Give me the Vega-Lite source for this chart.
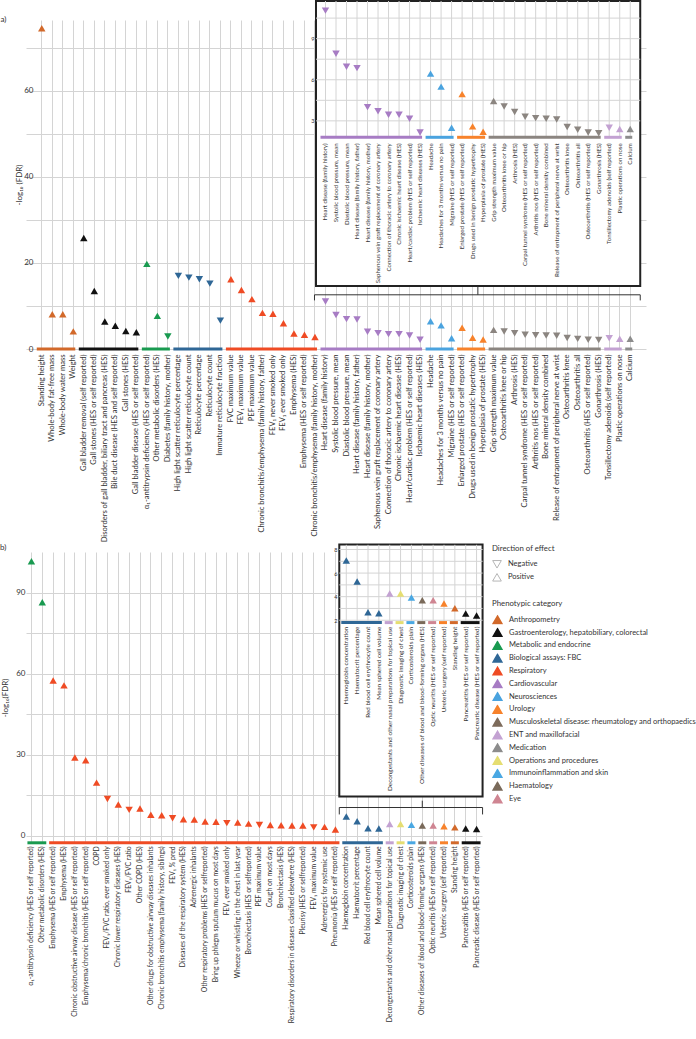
{
  "$schema": "https://vega.github.io/schema/vega-lite/v6.json",
  "padding": {"left": 0, "top": 0, "right": 0, "bottom": 0},
  "spacing": 0,
  "config": {
    "font": "Lato",
    "view": {"stroke": null},
    "axis": {"labelColor": "#333", "titleColor": "#333", "labelFont": "Lato", "titleFont": "Lato"},
    "legend": {"labelColor": "#333", "titleColor": "#333", "labelFont": "Lato", "titleFont": "Lato"}
  },
  "datasets": {
    "a": [
      {"label": "Standing height", "cat": "Anthropometry", "d": "Positive", "v": 74.6},
      {"label": "Whole-body fat-free mass", "cat": "Anthropometry", "d": "Positive", "v": 8.1},
      {"label": "Whole-body water mass", "cat": "Anthropometry", "d": "Positive", "v": 8.1},
      {"label": "Weight", "cat": "Anthropometry", "d": "Positive", "v": 4.1},
      {"label": "Gall bladder removal (self reported)", "cat": "Gastroenterology, hepatobiliary, colorectal", "d": "Positive", "v": 25.8},
      {"label": "Gall stones (HES or self reported)", "cat": "Gastroenterology, hepatobiliary, colorectal", "d": "Positive", "v": 13.5},
      {"label": "Disorders of gall bladder, biliary tract and pancreas (HES)", "cat": "Gastroenterology, hepatobiliary, colorectal", "d": "Positive", "v": 6.4},
      {"label": "Bile duct disease (HES and self reported)", "cat": "Gastroenterology, hepatobiliary, colorectal", "d": "Positive", "v": 5.4},
      {"label": "Gall stones (HES)", "cat": "Gastroenterology, hepatobiliary, colorectal", "d": "Positive", "v": 4.2},
      {"label": "Gall bladder disease (HES or self reported)", "cat": "Gastroenterology, hepatobiliary, colorectal", "d": "Positive", "v": 3.9},
      {"label": "α₁-antitrypsin deficiency (HES or self reported)", "cat": "Metabolic and endocrine", "d": "Positive", "v": 19.8},
      {"label": "Other metabolic disorders (HES)", "cat": "Metabolic and endocrine", "d": "Positive", "v": 7.7},
      {"label": "Diabetes (family history, mother)", "cat": "Metabolic and endocrine", "d": "Negative", "v": 2.9},
      {"label": "High light scatter reticulocyte percentage", "cat": "Biological assays: FBC", "d": "Negative", "v": 17.0},
      {"label": "High light scatter reticulocyte count", "cat": "Biological assays: FBC", "d": "Negative", "v": 16.6},
      {"label": "Reticulocyte percentage", "cat": "Biological assays: FBC", "d": "Negative", "v": 16.2},
      {"label": "Reticulocyte count", "cat": "Biological assays: FBC", "d": "Negative", "v": 15.2},
      {"label": "Immature reticulocyte fraction", "cat": "Biological assays: FBC", "d": "Negative", "v": 6.6},
      {"label": "FVC maximum value", "cat": "Respiratory", "d": "Positive", "v": 16.2},
      {"label": "FEV₁ maximum value", "cat": "Respiratory", "d": "Positive", "v": 13.7},
      {"label": "PEF maximum value", "cat": "Respiratory", "d": "Positive", "v": 11.6},
      {"label": "Chronic bronchitis/emphysema (family history, father)", "cat": "Respiratory", "d": "Positive", "v": 8.4},
      {"label": "FEV₁ never smoked only", "cat": "Respiratory", "d": "Positive", "v": 8.2},
      {"label": "FEV₁ ever smoked only", "cat": "Respiratory", "d": "Positive", "v": 6.0},
      {"label": "Emphysema (HES)", "cat": "Respiratory", "d": "Positive", "v": 3.6},
      {"label": "Emphysema (HES or self reported)", "cat": "Respiratory", "d": "Positive", "v": 3.3},
      {"label": "Chronic bronchitis/emphysema (family history, mother)", "cat": "Respiratory", "d": "Positive", "v": 2.8},
      {"label": "Heart disease (family history)", "cat": "Cardiovascular", "d": "Negative", "v": 11.05},
      {"label": "Systolic blood pressure, mean", "cat": "Cardiovascular", "d": "Negative", "v": 7.9},
      {"label": "Diastolic blood pressure, mean", "cat": "Cardiovascular", "d": "Negative", "v": 6.95},
      {"label": "Heart disease (family history, father)", "cat": "Cardiovascular", "d": "Negative", "v": 6.85},
      {"label": "Heart disease (family history, mother)", "cat": "Cardiovascular", "d": "Negative", "v": 4.0},
      {"label": "Saphenous vein graft replacement of coronary artery", "cat": "Cardiovascular", "d": "Negative", "v": 3.7},
      {"label": "Connection of thoracic artery to coronary artery", "cat": "Cardiovascular", "d": "Negative", "v": 3.45},
      {"label": "Chronic ischaemic heart disease (HES)", "cat": "Cardiovascular", "d": "Negative", "v": 3.45},
      {"label": "Heart/cardiac problem (HES or self reported)", "cat": "Cardiovascular", "d": "Negative", "v": 3.15},
      {"label": "Ischaemic heart diseases (HES)", "cat": "Cardiovascular", "d": "Negative", "v": 2.15},
      {"label": "Headache", "cat": "Neurosciences", "d": "Positive", "v": 6.45},
      {"label": "Headaches for 3 months versus no pain", "cat": "Neurosciences", "d": "Positive", "v": 5.5},
      {"label": "Migraine (HES or self reported)", "cat": "Neurosciences", "d": "Positive", "v": 2.5},
      {"label": "Enlarged prostate (HES or self reported)", "cat": "Urology", "d": "Positive", "v": 4.95},
      {"label": "Drugs used in benign prostatic hypertrophy", "cat": "Urology", "d": "Positive", "v": 2.6},
      {"label": "Hyperplasia of prostate (HES)", "cat": "Urology", "d": "Positive", "v": 2.2},
      {"label": "Grip strength maximum value", "cat": "Musculoskeletal disease: rheumatology and orthopaedics", "d": "Positive", "v": 4.45},
      {"label": "Osteoarthritis knee or hip", "cat": "Musculoskeletal disease: rheumatology and orthopaedics", "d": "Negative", "v": 4.05},
      {"label": "Arthrosis (HES)", "cat": "Musculoskeletal disease: rheumatology and orthopaedics", "d": "Negative", "v": 3.65},
      {"label": "Carpal tunnel syndrome (HES or self reported)", "cat": "Musculoskeletal disease: rheumatology and orthopaedics", "d": "Negative", "v": 3.3},
      {"label": "Arthritis nos (HES or self reported)", "cat": "Musculoskeletal disease: rheumatology and orthopaedics", "d": "Negative", "v": 3.2},
      {"label": "Bone mineral density combined", "cat": "Musculoskeletal disease: rheumatology and orthopaedics", "d": "Negative", "v": 3.15},
      {"label": "Release of entrapment of peripheral nerve at wrist", "cat": "Musculoskeletal disease: rheumatology and orthopaedics", "d": "Negative", "v": 3.1},
      {"label": "Osteoarthritis knee", "cat": "Musculoskeletal disease: rheumatology and orthopaedics", "d": "Negative", "v": 2.55},
      {"label": "Osteoarthritis all", "cat": "Musculoskeletal disease: rheumatology and orthopaedics", "d": "Negative", "v": 2.35},
      {"label": "Osteoarthritis (HES or self reported)", "cat": "Musculoskeletal disease: rheumatology and orthopaedics", "d": "Negative", "v": 2.15},
      {"label": "Gonarthrosis (HES)", "cat": "Musculoskeletal disease: rheumatology and orthopaedics", "d": "Negative", "v": 2.1},
      {"label": "Tonsillectomy adenoids (self reported)", "cat": "ENT and maxillofacial", "d": "Negative", "v": 2.5},
      {"label": "Plastic operations on nose", "cat": "ENT and maxillofacial", "d": "Positive", "v": 2.4},
      {"label": "Calcium", "cat": "Medication", "d": "Positive", "v": 2.4}
    ],
    "b": [
      {"label": "α₁-antitrypsin deficiency (HES or self reported)", "cat": "Metabolic and endocrine", "d": "Positive", "v": 101.6},
      {"label": "Other metabolic disorders (HES)", "cat": "Metabolic and endocrine", "d": "Positive", "v": 86.4},
      {"label": "Emphysema (HES or self reported)", "cat": "Respiratory", "d": "Positive", "v": 57.4},
      {"label": "Emphysema (HES)", "cat": "Respiratory", "d": "Positive", "v": 55.6},
      {"label": "Chronic obstructive airway disease (HES or self reported)", "cat": "Respiratory", "d": "Positive", "v": 28.9},
      {"label": "Emphysema/chronic bronchitis (HES or self reported)", "cat": "Respiratory", "d": "Positive", "v": 27.9},
      {"label": "COPD", "cat": "Respiratory", "d": "Positive", "v": 19.6},
      {"label": "FEV₁/FVC ratio, ever smoked only", "cat": "Respiratory", "d": "Negative", "v": 13.5},
      {"label": "Chronic lower respiratory diseases (HES)", "cat": "Respiratory", "d": "Positive", "v": 11.5},
      {"label": "FEV₁/FVC ratio", "cat": "Respiratory", "d": "Negative", "v": 9.5},
      {"label": "Other COPD (HES)", "cat": "Respiratory", "d": "Positive", "v": 10.0},
      {"label": "Other drugs for obstructive airway diseases inhalants", "cat": "Respiratory", "d": "Positive", "v": 7.7},
      {"label": "Chronic bronchitis emphysema (family history, siblings)", "cat": "Respiratory", "d": "Positive", "v": 7.5},
      {"label": "FEV₁ % pred", "cat": "Respiratory", "d": "Negative", "v": 6.4},
      {"label": "Diseases of the respiratory system (HES)", "cat": "Respiratory", "d": "Positive", "v": 6.0},
      {"label": "Adrenergic inhalants", "cat": "Respiratory", "d": "Positive", "v": 5.9},
      {"label": "Other respiratory problems (HES or selfreported)", "cat": "Respiratory", "d": "Positive", "v": 5.2},
      {"label": "Bring up phlegm sputum mucus on most days", "cat": "Respiratory", "d": "Positive", "v": 5.1},
      {"label": "FEV₁ ever smoked only", "cat": "Respiratory", "d": "Negative", "v": 4.6},
      {"label": "Wheeze or whistling in the chest in last year", "cat": "Respiratory", "d": "Positive", "v": 4.8},
      {"label": "Bronchiectasis (HES or selfreported)", "cat": "Respiratory", "d": "Positive", "v": 4.4},
      {"label": "PEF maximum value", "cat": "Respiratory", "d": "Negative", "v": 3.9},
      {"label": "Cough on most days", "cat": "Respiratory", "d": "Positive", "v": 3.9},
      {"label": "Bronchiectasis (HES)", "cat": "Respiratory", "d": "Positive", "v": 3.8},
      {"label": "Respiratory disorders in diseases classified elsewhere (HES)", "cat": "Respiratory", "d": "Positive", "v": 3.7},
      {"label": "Pleurisy (HES or selfreported)", "cat": "Respiratory", "d": "Positive", "v": 3.7},
      {"label": "FEV₁ maximum value", "cat": "Respiratory", "d": "Negative", "v": 3.0},
      {"label": "Adrenergics for systemic use", "cat": "Respiratory", "d": "Positive", "v": 3.2},
      {"label": "Pneumonia (HES or self reported)", "cat": "Respiratory", "d": "Positive", "v": 2.2},
      {"label": "Haemoglobin concentration", "cat": "Biological assays: FBC", "d": "Positive", "v": 7.07},
      {"label": "Haematocrit percentage", "cat": "Biological assays: FBC", "d": "Positive", "v": 5.29},
      {"label": "Red blood cell erythrocyte count", "cat": "Biological assays: FBC", "d": "Positive", "v": 2.68},
      {"label": "Mean sphered cell volume", "cat": "Biological assays: FBC", "d": "Positive", "v": 2.6},
      {"label": "Decongestants and other nasal preparations for topical use", "cat": "ENT and maxillofacial", "d": "Positive", "v": 4.27},
      {"label": "Diagnostic imaging of chest", "cat": "Operations and procedures", "d": "Positive", "v": 4.27},
      {"label": "Corticosteroids plain", "cat": "Immunoinflammation and skin", "d": "Positive", "v": 3.93},
      {"label": "Other diseases of blood and blood-forming organs (HES)", "cat": "Haematology", "d": "Positive", "v": 3.7},
      {"label": "Optic neuritis (HES or self reported)", "cat": "Eye", "d": "Positive", "v": 3.7},
      {"label": "Ureteric surgery (self reported)", "cat": "Urology", "d": "Positive", "v": 3.42},
      {"label": "Standing height", "cat": "Anthropometry", "d": "Positive", "v": 3.02},
      {"label": "Pancreatitis (HES or self reported)", "cat": "Gastroenterology, hepatobiliary, colorectal", "d": "Positive", "v": 2.57},
      {"label": "Pancreatic disease (HES or self reported)", "cat": "Gastroenterology, hepatobiliary, colorectal", "d": "Positive", "v": 2.4}
    ],
    "ga": [{"g": 3}, {"g": 4.5}, {"g": 6}, {"g": 7.5}, {"g": 9}, {"g": 10.5}],
    "gb": [{"g": 2}, {"g": 3}, {"g": 4}, {"g": 5}, {"g": 6}, {"g": 7}, {"g": 8}]
  },
  "resolve": {
    "scale": {"color": "independent", "shape": "independent"},
    "legend": {"color": "independent", "shape": "independent"}
  },
  "vconcat": [
    {
      "width": 620,
      "height": 329,
      "data": {"name": "a"},
      "resolve": {"scale": {"y": "independent"}, "axis": {"y": "independent"}},
      "layer": [
        {
          "layer": [
            {
              "mark": {"type": "point", "filled": true, "size": 55, "opacity": 1},
              "encoding": {
                "x": {
                  "field": "label", "type": "nominal", "sort": null,
                  "scale": {"type": "band", "paddingInner": 0, "paddingOuter": 1.02, "domain": ["Standing height", "Whole-body fat-free mass", "Whole-body water mass", "Weight", "Gall bladder removal (self reported)", "Gall stones (HES or self reported)", "Disorders of gall bladder, biliary tract and pancreas (HES)", "Bile duct disease (HES and self reported)", "Gall stones (HES)", "Gall bladder disease (HES or self reported)", "α₁-antitrypsin deficiency (HES or self reported)", "Other metabolic disorders (HES)", "Diabetes (family history, mother)", "High light scatter reticulocyte percentage", "High light scatter reticulocyte count", "Reticulocyte percentage", "Reticulocyte count", "Immature reticulocyte fraction", "FVC maximum value", "FEV₁ maximum value", "PEF maximum value", "Chronic bronchitis/emphysema (family history, father)", "FEV₁ never smoked only", "FEV₁ ever smoked only", "Emphysema (HES)", "Emphysema (HES or self reported)", "Chronic bronchitis/emphysema (family history, mother)", "Heart disease (family history)", "Systolic blood pressure, mean", "Diastolic blood pressure, mean", "Heart disease (family history, father)", "Heart disease (family history, mother)", "Saphenous vein graft replacement of coronary artery", "Connection of thoracic artery to coronary artery", "Chronic ischaemic heart disease (HES)", "Heart/cardiac problem (HES or self reported)", "Ischaemic heart diseases (HES)", "Headache", "Headaches for 3 months versus no pain", "Migraine (HES or self reported)", "Enlarged prostate (HES or self reported)", "Drugs used in benign prostatic hypertrophy", "Hyperplasia of prostate (HES)", "Grip strength maximum value", "Osteoarthritis knee or hip", "Arthrosis (HES)", "Carpal tunnel syndrome (HES or self reported)", "Arthritis nos (HES or self reported)", "Bone mineral density combined", "Release of entrapment of peripheral nerve at wrist", "Osteoarthritis knee", "Osteoarthritis all", "Osteoarthritis (HES or self reported)", "Gonarthrosis (HES)", "Tonsillectomy adenoids (self reported)", "Plastic operations on nose", "Calcium"]},
                  "axis": {"title": null, "labelAngle": 270, "labelFontSize": 7.6, "labelPadding": 5, "ticks": false, "domain": false, "grid": true, "gridColor": "#d4d4d4", "labelLimit": 400}
                },
                "y": {
                  "field": "v", "type": "quantitative",
                  "scale": {"domain": [0, 76.5], "nice": false, "zero": false},
                  "axis": {"title": "-log₁₀ (FDR)", "values": [0, 10, 20, 30, 40, 50, 60, 70], "labelExpr": "datum.value % 20 === 0 ? datum.label : ''", "grid": true, "gridColor": "#d4d4d4", "ticks": false, "domain": false, "labelFontSize": 8, "titleFontSize": 8, "titleFontWeight": "normal", "labelPadding": 4, "offset": -11, "titlePadding": 0}
                },
                "color": {"field": "cat", "type": "nominal", "legend": null, "scale": {"domain": ["Anthropometry", "Gastroenterology, hepatobiliary, colorectal", "Metabolic and endocrine", "Biological assays: FBC", "Respiratory", "Cardiovascular", "Neurosciences", "Urology", "Musculoskeletal disease: rheumatology and orthopaedics", "ENT and maxillofacial", "Medication", "Operations and procedures", "Immunoinflammation and skin", "Haematology", "Eye"], "range": ["#d2692a", "#111111", "#199a50", "#2f6796", "#ef4b24", "#a77cc4", "#4aa3df", "#f7822b", "#8b8580", "#c3a2d2", "#8c8c8c", "#e5de72", "#4aa8e3", "#7a6a5a", "#cf8592"]}},
                "shape": {"field": "d", "type": "nominal", "legend": null, "scale": {"domain": ["Negative", "Positive"], "range": ["triangle-down", "triangle-up"]}}
              }
            },
            {
              "transform": [
                {"window": [{"op": "first_value", "field": "label", "as": "first"}, {"op": "last_value", "field": "label", "as": "last"}], "groupby": ["cat"], "frame": [null, null]},
                {"filter": "datum.label === datum.first"}
              ],
              "mark": {"type": "rule", "strokeWidth": 3, "xOffset": -5, "x2Offset": 2},
              "encoding": {
                "x": {"field": "first", "type": "nominal", "bandPosition": 0.5},
                "x2": {"field": "last", "bandPosition": 0.5},
                "y": {"datum": 0},
                "color": {"field": "cat", "type": "nominal", "legend": null}
              }
            },
            {
              "data": {"values": [{}]},
              "mark": {"type": "text", "text": "a)", "align": "left", "baseline": "middle", "fontSize": 8, "xOffset": -36, "color": "#333"},
              "encoding": {
                "x": {"datum": "Standing height", "bandPosition": 0},
                "y": {"datum": 76.5}
              }
            },
            {
              "data": {"values": [{}]},
              "mark": {"type": "rect", "fill": "white", "stroke": "#222", "strokeWidth": 2, "xOffset": -9.5, "x2Offset": 10},
              "encoding": {
                "x": {"datum": "Heart disease (family history)", "bandPosition": 0.5},
                "x2": {"datum": "Calcium", "bandPosition": 0.5},
                "y": {"datum": 80.9},
                "y2": {"datum": 14.64}
              }
            },
            {
              "data": {"values": [{}]},
              "mark": {"type": "rule", "color": "#333", "strokeWidth": 1, "xOffset": -11, "x2Offset": 10},
              "encoding": {
                "x": {"datum": "Heart disease (family history)", "bandPosition": 0.5},
                "x2": {"datum": "Calcium", "bandPosition": 0.5},
                "y": {"datum": 12.6}
              }
            },
            {
              "data": {"values": [{}]},
              "mark": {"type": "rule", "color": "#333", "strokeWidth": 1, "xOffset": -11},
              "encoding": {
                "x": {"datum": "Heart disease (family history)", "bandPosition": 0.5},
                "y": {"datum": 12.6},
                "y2": {"datum": 11.3}
              }
            },
            {
              "data": {"values": [{}]},
              "mark": {"type": "rule", "color": "#333", "strokeWidth": 1, "xOffset": 10},
              "encoding": {
                "x": {"datum": "Calcium", "bandPosition": 0.5},
                "y": {"datum": 12.6},
                "y2": {"datum": 11.3}
              }
            },
            {
              "data": {"values": [{}]},
              "mark": {"type": "rule", "color": "#333", "strokeWidth": 1},
              "encoding": {
                "x": {"datum": "Drugs used in benign prostatic hypertrophy", "bandPosition": 1},
                "y": {"datum": 12.6},
                "y2": {"datum": 14.5}
              }
            }
          ]
        },
        {
          "layer": [
            {
              "data": {"name": "ga"},
              "mark": {"type": "rule", "color": "#d4d4d4", "strokeWidth": 1, "xOffset": -9.5, "x2Offset": 10},
              "encoding": {
                "x": {"datum": "Heart disease (family history)", "bandPosition": 0.5},
                "x2": {"datum": "Calcium", "bandPosition": 0.5},
                "y": {
                  "field": "g", "type": "quantitative",
                  "scale": {"domain": [1.8, 11.75], "range": [117.3, -19], "nice": false, "zero": false},
                  "axis": {"orient": "left", "offset": -288, "values": [3, 6, 9], "labelFontSize": 5.5, "labelPadding": 0, "ticks": false, "domain": false, "grid": false, "title": null}
                }
              }
            },
            {
              "transform": [{"filter": "indexof(['Cardiovascular','Neurosciences','Urology','Musculoskeletal disease: rheumatology and orthopaedics','ENT and maxillofacial','Medication'], datum.cat) >= 0"}],
              "mark": {"type": "rule", "color": "#d4d4d4", "strokeWidth": 1},
              "encoding": {
                "x": {"field": "label", "type": "nominal"},
                "y": {"datum": 1.8},
                "y2": {"datum": 11.75}
              }
            },
            {
              "transform": [
                {"filter": "indexof(['Cardiovascular','Neurosciences','Urology','Musculoskeletal disease: rheumatology and orthopaedics','ENT and maxillofacial','Medication'], datum.cat) >= 0"},
                {"window": [{"op": "first_value", "field": "label", "as": "first"}, {"op": "last_value", "field": "label", "as": "last"}], "groupby": ["cat"], "frame": [null, null]},
                {"filter": "datum.label === datum.first"}
              ],
              "mark": {"type": "rule", "strokeWidth": 3, "xOffset": -5, "x2Offset": 2},
              "encoding": {
                "x": {"field": "first", "type": "nominal", "bandPosition": 0.5},
                "x2": {"field": "last", "bandPosition": 0.5},
                "y": {"datum": 1.8},
                "color": {"field": "cat", "type": "nominal", "legend": null}
              }
            },
            {
              "transform": [{"filter": "indexof(['Cardiovascular','Neurosciences','Urology','Musculoskeletal disease: rheumatology and orthopaedics','ENT and maxillofacial','Medication'], datum.cat) >= 0"}],
              "mark": {"type": "point", "filled": true, "size": 55, "opacity": 1},
              "encoding": {
                "x": {"field": "label", "type": "nominal"},
                "y": {"field": "v", "type": "quantitative", "title": null},
                "color": {"field": "cat", "type": "nominal", "legend": null},
                "shape": {"field": "d", "type": "nominal", "legend": null}
              }
            },
            {
              "transform": [{"filter": "indexof(['Cardiovascular','Neurosciences','Urology','Musculoskeletal disease: rheumatology and orthopaedics','ENT and maxillofacial','Medication'], datum.cat) >= 0"}],
              "mark": {"type": "text", "angle": 270, "align": "right", "baseline": "middle", "fontSize": 6.1, "yOffset": 6, "color": "#333"},
              "encoding": {
                "x": {"field": "label", "type": "nominal"},
                "y": {"datum": 1.8},
                "text": {"field": "label"}
              }
            }
          ]
        }
      ]
    },
    {
      "width": 456,
      "height": 290.8,
      "data": {"name": "b"},
      "resolve": {"scale": {"y": "independent"}, "axis": {"y": "independent"}},
      "layer": [
        {
          "layer": [
            {
              "mark": {"type": "point", "filled": true, "size": 55, "opacity": 1},
              "encoding": {
                "x": {
                  "field": "label", "type": "nominal", "sort": null,
                  "scale": {"type": "band", "paddingInner": 0, "paddingOuter": 0, "domain": ["α₁-antitrypsin deficiency (HES or self reported)", "Other metabolic disorders (HES)", "Emphysema (HES or self reported)", "Emphysema (HES)", "Chronic obstructive airway disease (HES or self reported)", "Emphysema/chronic bronchitis (HES or self reported)", "COPD", "FEV₁/FVC ratio, ever smoked only", "Chronic lower respiratory diseases (HES)", "FEV₁/FVC ratio", "Other COPD (HES)", "Other drugs for obstructive airway diseases inhalants", "Chronic bronchitis emphysema (family history, siblings)", "FEV₁ % pred", "Diseases of the respiratory system (HES)", "Adrenergic inhalants", "Other respiratory problems (HES or selfreported)", "Bring up phlegm sputum mucus on most days", "FEV₁ ever smoked only", "Wheeze or whistling in the chest in last year", "Bronchiectasis (HES or selfreported)", "PEF maximum value", "Cough on most days", "Bronchiectasis (HES)", "Respiratory disorders in diseases classified elsewhere (HES)", "Pleurisy (HES or selfreported)", "FEV₁ maximum value", "Adrenergics for systemic use", "Pneumonia (HES or self reported)", "Haemoglobin concentration", "Haematocrit percentage", "Red blood cell erythrocyte count", "Mean sphered cell volume", "Decongestants and other nasal preparations for topical use", "Diagnostic imaging of chest", "Corticosteroids plain", "Other diseases of blood and blood-forming organs (HES)", "Optic neuritis (HES or self reported)", "Ureteric surgery (self reported)", "Standing height", "Pancreatitis (HES or self reported)", "Pancreatic disease (HES or self reported)"]},
                  "axis": {"title": null, "labelAngle": 270, "labelFontSize": 6.85, "labelPadding": 3, "ticks": false, "domain": false, "grid": true, "gridColor": "#d4d4d4", "labelLimit": 400}
                },
                "y": {
                  "field": "v", "type": "quantitative",
                  "scale": {"domain": [-2.7, 105], "nice": false, "zero": false},
                  "axis": {"title": "-log₁₀(FDR)", "values": [0, 15, 30, 45, 60, 75, 90], "labelExpr": "datum.value % 30 === 0 ? datum.label : ''", "grid": true, "gridColor": "#d4d4d4", "ticks": false, "domain": false, "labelFontSize": 8, "titleFontSize": 8, "titleFontWeight": "normal", "labelPadding": 1, "titlePadding": 6}
                },
                "color": {"field": "cat", "type": "nominal", "scale": {"domain": ["Anthropometry", "Gastroenterology, hepatobiliary, colorectal", "Metabolic and endocrine", "Biological assays: FBC", "Respiratory", "Cardiovascular", "Neurosciences", "Urology", "Musculoskeletal disease: rheumatology and orthopaedics", "ENT and maxillofacial", "Medication", "Operations and procedures", "Immunoinflammation and skin", "Haematology", "Eye"], "range": ["#d2692a", "#111111", "#199a50", "#2f6796", "#ef4b24", "#a77cc4", "#4aa3df", "#f7822b", "#7d6b5b", "#c3a2d2", "#8c8c8c", "#e5de72", "#4aa8e3", "#7a6a5a", "#cf8592"]},
                  "legend": {"title": "Phenotypic category", "orient": "none", "legendX": 466, "legendY": 48, "symbolType": "triangle-up", "symbolSize": 75, "labelFontSize": 7.5, "titleFontSize": 7.8, "titleFontWeight": "normal", "rowPadding": 2.8, "clipHeight": 10, "labelLimit": 400, "padding": 0, "labelOffset": 6, "titlePadding": 7}},
                "shape": {"field": "d", "type": "nominal", "scale": {"domain": ["Negative", "Positive"], "range": ["triangle-down", "triangle-up"]},
                  "legend": {"title": "Direction of effect", "orient": "none", "legendX": 466, "legendY": -7, "symbolSize": 75, "labelFontSize": 7.5, "titleFontSize": 7.8, "titleFontWeight": "normal", "rowPadding": 2, "clipHeight": 11, "padding": 0, "labelOffset": 6, "titlePadding": 6, "symbolFillColor": "white", "symbolStrokeColor": "#b5b5b5", "symbolStrokeWidth": 1, "encode": {"symbols": {"update": {"fill": {"value": "white"}, "stroke": {"value": "#b5b5b5"}, "strokeWidth": {"value": 1}}}}}}
              }
            },
            {
              "transform": [
                {"window": [{"op": "first_value", "field": "label", "as": "first"}, {"op": "last_value", "field": "label", "as": "last"}], "groupby": ["cat"], "frame": [null, null]},
                {"filter": "datum.label === datum.first"}
              ],
              "mark": {"type": "rule", "strokeWidth": 3, "xOffset": -4, "x2Offset": 4},
              "encoding": {
                "x": {"field": "first", "type": "nominal", "bandPosition": 0.5},
                "x2": {"field": "last", "bandPosition": 0.5},
                "y": {"datum": -2.7},
                "color": {"field": "cat", "type": "nominal"}
              }
            },
            {
              "data": {"values": [{}]},
              "mark": {"type": "text", "text": "b)", "align": "left", "baseline": "middle", "fontSize": 8, "xOffset": -26, "color": "#333"},
              "encoding": {
                "x": {"datum": "α₁-antitrypsin deficiency (HES or self reported)", "bandPosition": 0},
                "y": {"datum": 106.3}
              }
            },
            {
              "data": {"values": [{}]},
              "mark": {"type": "rect", "fill": "white", "stroke": "#222", "strokeWidth": 2, "xOffset": -7, "x2Offset": 6},
              "encoding": {
                "x": {"datum": "Haemoglobin concentration", "bandPosition": 0.5},
                "x2": {"datum": "Pancreatic disease (HES or self reported)", "bandPosition": 0.5},
                "y": {"datum": 107.8},
                "y2": {"datum": 14.44}
              }
            },
            {
              "data": {"values": [{}]},
              "mark": {"type": "rule", "color": "#333", "strokeWidth": 1, "xOffset": -7, "x2Offset": 6},
              "encoding": {
                "x": {"datum": "Haemoglobin concentration", "bandPosition": 0.5},
                "x2": {"datum": "Pancreatic disease (HES or self reported)", "bandPosition": 0.5},
                "y": {"datum": 10.37}
              }
            },
            {
              "data": {"values": [{}]},
              "mark": {"type": "rule", "color": "#333", "strokeWidth": 1, "xOffset": -7},
              "encoding": {
                "x": {"datum": "Haemoglobin concentration", "bandPosition": 0.5},
                "y": {"datum": 10.37},
                "y2": {"datum": 7.8}
              }
            },
            {
              "data": {"values": [{}]},
              "mark": {"type": "rule", "color": "#333", "strokeWidth": 1, "xOffset": 6},
              "encoding": {
                "x": {"datum": "Pancreatic disease (HES or self reported)", "bandPosition": 0.5},
                "y": {"datum": 10.37},
                "y2": {"datum": 7.8}
              }
            },
            {
              "data": {"values": [{}]},
              "mark": {"type": "rule", "color": "#333", "strokeWidth": 1},
              "encoding": {
                "x": {"datum": "Other diseases of blood and blood-forming organs (HES)", "bandPosition": 0.5},
                "y": {"datum": 10.37},
                "y2": {"datum": 12.9}
              }
            }
          ]
        },
        {
          "layer": [
            {
              "data": {"name": "gb"},
              "mark": {"type": "rule", "color": "#d4d4d4", "strokeWidth": 1, "xOffset": -7, "x2Offset": 6},
              "encoding": {
                "x": {"datum": "Haemoglobin concentration", "bandPosition": 0.5},
                "x2": {"datum": "Pancreatic disease (HES or self reported)", "bandPosition": 0.5},
                "y": {
                  "field": "g", "type": "quantitative",
                  "scale": {"domain": [1.8, 8.4], "range": [70.6, -7.2], "nice": false, "zero": false},
                  "axis": {"orient": "left", "offset": -311, "values": [2, 4, 6, 8], "labelFontSize": 5.5, "labelPadding": 0, "ticks": false, "domain": false, "grid": false, "title": null}
                }
              }
            },
            {
              "transform": [{"filter": "datum.cat !== 'Metabolic and endocrine' && datum.cat !== 'Respiratory'"}],
              "mark": {"type": "rule", "color": "#d4d4d4", "strokeWidth": 1},
              "encoding": {
                "x": {"field": "label", "type": "nominal"},
                "y": {"datum": 1.8},
                "y2": {"datum": 8.4}
              }
            },
            {
              "transform": [
                {"filter": "datum.cat !== 'Metabolic and endocrine' && datum.cat !== 'Respiratory'"},
                {"window": [{"op": "first_value", "field": "label", "as": "first"}, {"op": "last_value", "field": "label", "as": "last"}], "groupby": ["cat"], "frame": [null, null]},
                {"filter": "datum.label === datum.first"}
              ],
              "mark": {"type": "rule", "strokeWidth": 3, "xOffset": -5, "x2Offset": 3},
              "encoding": {
                "x": {"field": "first", "type": "nominal", "bandPosition": 0.5},
                "x2": {"field": "last", "bandPosition": 0.5},
                "y": {"datum": 1.8},
                "color": {"field": "cat", "type": "nominal"}
              }
            },
            {
              "transform": [{"filter": "datum.cat !== 'Metabolic and endocrine' && datum.cat !== 'Respiratory'"}],
              "mark": {"type": "point", "filled": true, "size": 55, "opacity": 1},
              "encoding": {
                "x": {"field": "label", "type": "nominal"},
                "y": {"field": "v", "type": "quantitative", "title": null},
                "color": {"field": "cat", "type": "nominal"},
                "shape": {"field": "d", "type": "nominal"}
              }
            },
            {
              "transform": [{"filter": "datum.cat !== 'Metabolic and endocrine' && datum.cat !== 'Respiratory'"}],
              "mark": {"type": "text", "angle": 270, "align": "right", "baseline": "middle", "fontSize": 6.4, "yOffset": 4, "color": "#333"},
              "encoding": {
                "x": {"field": "label", "type": "nominal"},
                "y": {"datum": 1.8},
                "text": {"field": "label"}
              }
            }
          ]
        }
      ]
    }
  ]
}
